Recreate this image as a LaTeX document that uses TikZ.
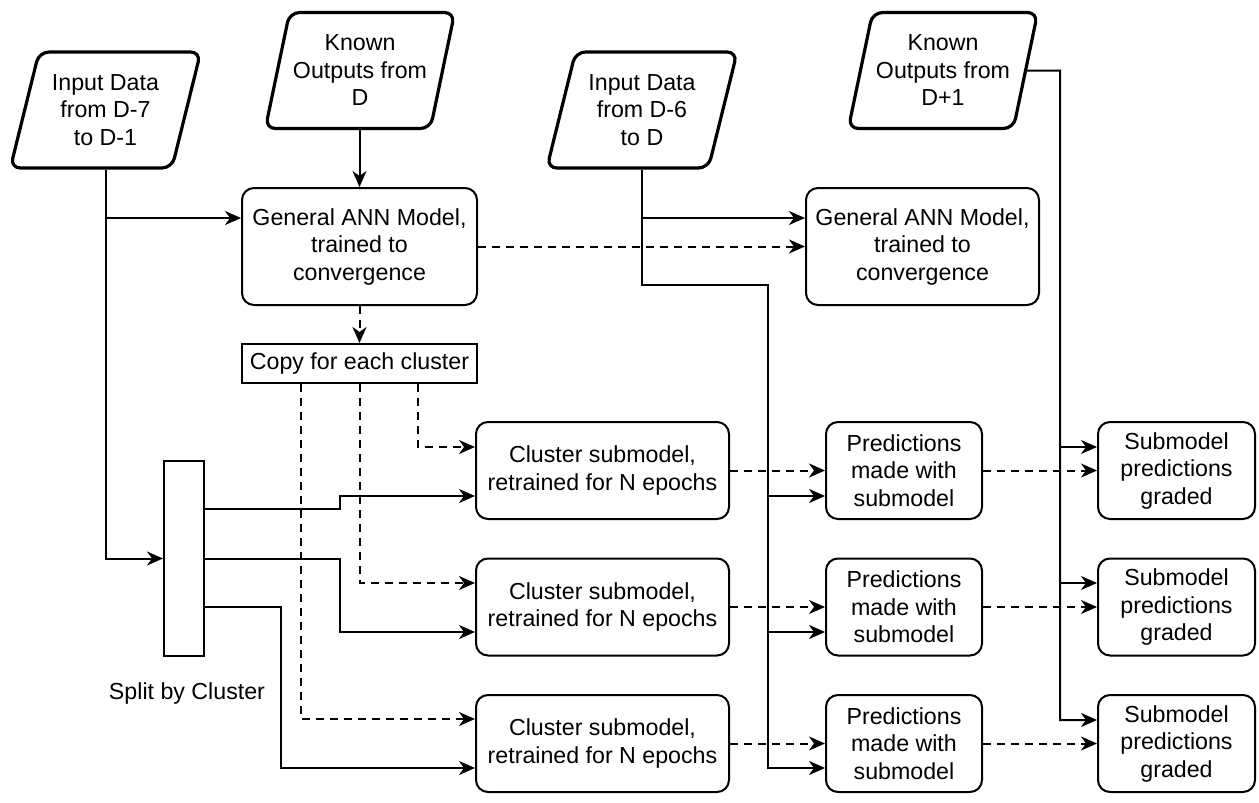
\documentclass[tikz,border=0pt]{standalone}
\usepackage{fontspec}
\setmainfont{Liberation Sans}
\usetikzlibrary{arrows.meta,shapes.geometric}
\begin{document}
\begin{tikzpicture}[x=0.5pt,y=-0.5pt,
  every node/.style={font=\fontsize{11.6pt}{13.75pt}\selectfont, align=center, inner sep=0pt},
  box/.style={draw, rounded corners=6pt, line width=1pt},
  para/.style={draw, shape=trapezium, trapezium left angle=72, trapezium right angle=108,
    trapezium stretches=true, rounded corners=5pt, line width=1.6pt,
    minimum height=58pt, minimum width=95.5pt},
  conn/.style={line width=1pt, -{Stealth[length=8pt,width=7pt,inset=2.5pt]}},
  dconn/.style={conn, dash pattern=on 4pt off 3pt},
]
\useasboundingbox (0,0) rectangle (1259,803);

% inputs
\node[para] (in1) at (105.5,110) {Input Data\\from D-7\\to D-1};
\node[para] (ko1) at (360,70.5) {Known\\Outputs from\\D};
\node[para] (in2) at (642,110) {Input Data\\from D-6\\to D};
\node[para] (ko2) at (943,70.5) {Known\\Outputs from\\D+1};

% general models
\node[box, minimum width=117.5pt, minimum height=58.5pt] (gen1) at (359.5,246.5) {General ANN Model,\\trained to\\convergence};
\node[box, minimum width=116.5pt, minimum height=58.5pt] (gen2) at (922.5,246.5) {General ANN Model,\\trained to\\convergence};
\node[draw, line width=1pt, minimum width=117.5pt, minimum height=19.5pt] (copy) at (359.5,363.5) {Copy for each cluster};

% split
\node[draw, line width=1pt, minimum width=20pt, minimum height=97.5pt] (split) at (184,558.5) {};
\node (lbl) at (187,693) {Split by Cluster};

% cluster submodels
\foreach \i/\y in {1/470.5,2/607,3/743.5}{
  \node[box, minimum width=126.5pt, minimum height=48.5pt] (clus\i) at (602.5,\y) {Cluster submodel,\\retrained for N epochs};
  \node[box, minimum width=78pt, minimum height=48.5pt] (pred\i) at (904,\y) {Predictions\\made with\\submodel};
  \node[box, minimum width=78.5pt, minimum height=48.5pt] (grad\i) at (1176.5,\y) {Submodel\\predictions\\graded};
}

% helper coordinates
\coordinate (a1) at (in1.south -| in1.center);
\coordinate (a3) at (in2.south -| in2.center);
\coordinate (vx) at (768,285);
\coordinate (vk) at (1060,70.5);
\coordinate (jx) at (340,0);
\coordinate (jx2) at (281,0);

% input 1
\draw[conn] (a1) |- (split.west);
\draw[conn] ([yshift=14.25pt]gen1.west -| a1) -- ([yshift=14.25pt]gen1.west);
% known outputs D
\draw[conn] (ko1.south -| gen1.north) -- (gen1.north);
% general model to general model
\draw[dconn] (gen1.east) -- (gen2.west);
% input 2
\draw[conn] ([yshift=14.25pt]gen2.west -| a3) -- ([yshift=14.25pt]gen2.west);
\draw[conn] (a3) |- (vx) |- ([yshift=-12.25pt]pred3.west);
\draw[conn] ([yshift=-12.75pt]pred1.west -| vx) -- ([yshift=-12.75pt]pred1.west);
\draw[conn] ([yshift=-12.5pt]pred2.west -| vx) -- ([yshift=-12.5pt]pred2.west);
% known outputs D+1
\draw[conn] (ko2.east) -- (vk) |- ([yshift=11.75pt]grad3.west);
\draw[conn] ([yshift=11.75pt]grad1.west -| vk) -- ([yshift=11.75pt]grad1.west);
\draw[conn] ([yshift=12pt]grad2.west -| vk) -- ([yshift=12pt]grad2.west);
% copy
\draw[dconn] (gen1.south) -- (copy.north);
\draw[dconn] ([xshift=29.25pt]copy.south) |- ([yshift=11.75pt]clus1.west);
\draw[dconn] (copy.south) |- ([yshift=12pt]clus2.west);
\draw[dconn] ([xshift=-29.5pt]copy.south) |- ([yshift=12.25pt]clus3.west);
% split outputs
\draw[conn] ([yshift=24.75pt]split.east) -- ([yshift=24.75pt]split.east -| jx) |- ([yshift=-12.75pt]clus1.west);
\draw[conn] (split.east) -- (split.east -| jx) |- ([yshift=-12.5pt]clus2.west);
\draw[conn] ([yshift=-24.25pt]split.east) -- ([yshift=-24.25pt]split.east -| jx2) |- ([yshift=-12.25pt]clus3.west);
% chains
\foreach \i in {1,2,3}{
  \draw[dconn] (clus\i.east) -- (pred\i.west);
  \draw[dconn] (pred\i.east) -- (grad\i.west);
}
\end{tikzpicture}
\end{document}
